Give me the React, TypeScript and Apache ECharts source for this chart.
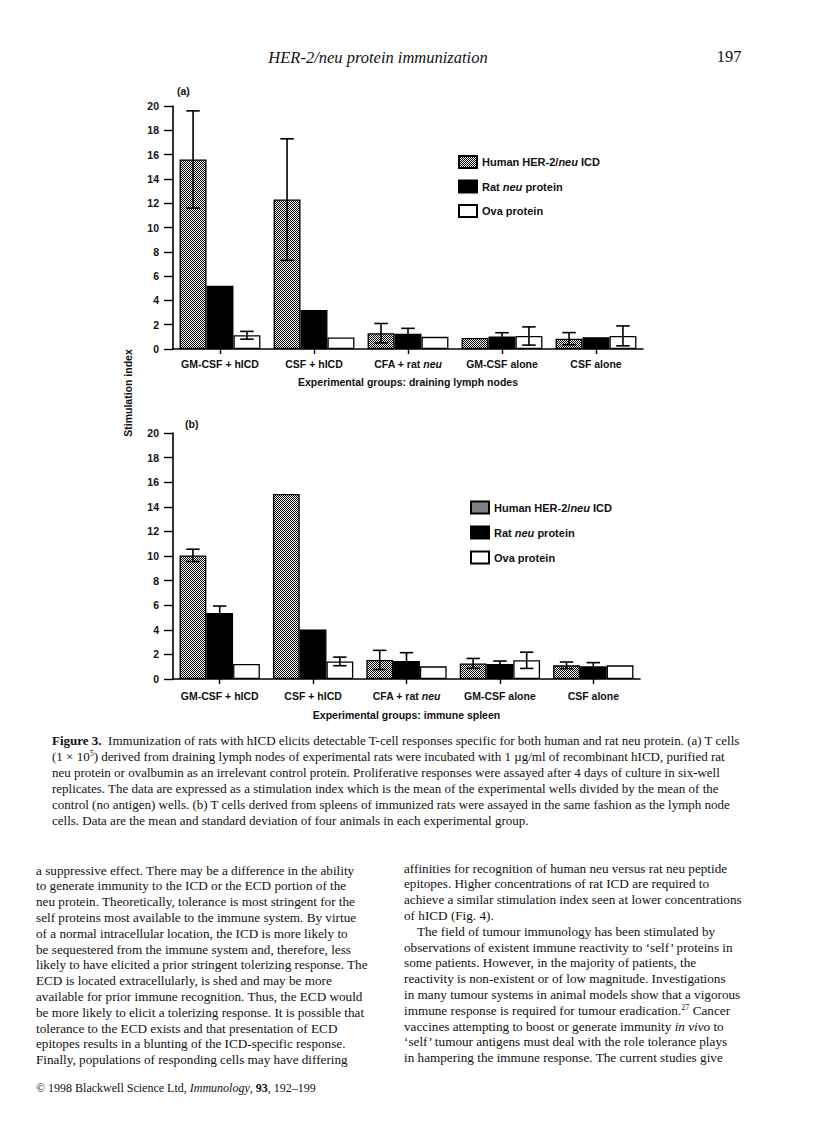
import React, { useEffect, useRef } from "react";
import * as echarts from "echarts";

// ---------- data ----------
const categories = ["GM-CSF + hICD", "CSF + hICD", "CFA + rat neu", "GM-CSF alone", "CSF alone"];
const seriesNames = ["Human HER-2/neu ICD", "Rat neu protein", "Ova protein"];

// (a) draining lymph nodes
const lymphHuman = [15.6, 12.3, 1.3, 0.9, 0.85];
const lymphHumanSD = [4.0, 5.0, 0.8, null, 0.5];
const lymphRat = [5.2, 3.2, 1.25, 1.02, 0.97];
const lymphRatSD = [null, null, 0.45, 0.32, null];
const lymphOva = [1.13, 0.95, 1.0, 1.07, 1.08];
const lymphOvaSD = [0.32, null, null, 0.75, 0.82];

// (b) immune spleen
const spleenHuman = [10.05, 15.05, 1.55, 1.27, 1.11];
const spleenHumanSD = [0.5, null, 0.78, 0.4, 0.27];
const spleenRat = [5.36, 4.03, 1.46, 1.22, 1.03];
const spleenRatSD = [0.57, null, 0.68, 0.24, 0.3];
const spleenOva = [1.22, 1.43, 1.03, 1.52, 1.11];
const spleenOvaSD = [null, 0.35, null, 0.66, null];

const yTicks = { min: 0, max: 20, interval: 2 };

const headerText = "HER-2/neu protein immunization";
const pageNumber = "197";

const captionLines = [
  "{b|Figure 3.}  Immunization of rats with hICD elicits detectable T-cell responses specific for both human and rat neu protein. (a) T cells",
  "(1 × 10{sup|5}) derived from draining lymph nodes of experimental rats were incubated with 1 µg/ml of recombinant hICD, purified rat",
  "neu protein or ovalbumin as an irrelevant control protein. Proliferative responses were assayed after 4 days of culture in six-well",
  "replicates. The data are expressed as a stimulation index which is the mean of the experimental wells divided by the mean of the",
  "control (no antigen) wells. (b) T cells derived from spleens of immunized rats were assayed in the same fashion as the lymph node",
  "cells. Data are the mean and standard deviation of four animals in each experimental group.",
];

const leftColumn = [
  "a suppressive effect. There may be a difference in the ability",
  "to generate immunity to the ICD or the ECD portion of the",
  "neu protein. Theoretically, tolerance is most stringent for the",
  "self proteins most available to the immune system. By virtue",
  "of a normal intracellular location, the ICD is more likely to",
  "be sequestered from the immune system and, therefore, less",
  "likely to have elicited a prior stringent tolerizing response. The",
  "ECD is located extracellularly, is shed and may be more",
  "available for prior immune recognition. Thus, the ECD would",
  "be more likely to elicit a tolerizing response. It is possible that",
  "tolerance to the ECD exists and that presentation of ECD",
  "epitopes results in a blunting of the ICD-specific response.",
  "Finally, populations of responding cells may have differing",
];

const rightColumn = [
  "affinities for recognition of human neu versus rat neu peptide",
  "epitopes. Higher concentrations of rat ICD are required to",
  "achieve a similar stimulation index seen at lower concentrations",
  "of hICD (Fig. 4).",
  "    The field of tumour immunology has been stimulated by",
  "observations of existent immune reactivity to ‘self’ proteins in",
  "some patients. However, in the majority of patients, the",
  "reactivity is non-existent or of low magnitude. Investigations",
  "in many tumour systems in animal models show that a vigorous",
  "immune response is required for tumour eradication.{sup|27} Cancer",
  "vaccines attempting to boost or generate immunity {i|in vivo} to",
  "‘self’ tumour antigens must deal with the role tolerance plays",
  "in hampering the immune response. The current studies give",
];

const footerText = "© 1998 Blackwell Science Ltd, {i|Immunology}, {b|93}, 192–199";

// ---------- styles ----------
const SANS = "'Liberation Sans', Arial, Helvetica, sans-serif";
const SERIF = "'Liberation Serif', 'Times New Roman', serif";
const CHART_FS = 10.5;
const GAP_RATIO = 0.14;

function makeDotPattern(): any {
  const c = document.createElement("canvas");
  c.width = 2;
  c.height = 2;
  const ctx = c.getContext("2d");
  if (ctx) {
    ctx.fillStyle = "#fff";
    ctx.fillRect(0, 0, 2, 2);
    ctx.fillStyle = "#000";
    ctx.fillRect(0, 0, 1, 1);
    ctx.fillRect(1, 1, 1, 1);
  }
  return { image: c, repeat: "repeat" };
}

const richChart = {
  n: { fontFamily: SANS, fontSize: CHART_FS, fontWeight: "bold", color: "#111" },
  i: { fontFamily: SANS, fontSize: CHART_FS, fontWeight: "bold", fontStyle: "italic", color: "#111" },
};

function neuRich(s: string) {
  return s
    .split(/(neu)/)
    .filter((p) => p.length > 0)
    .map((p) => (p === "neu" ? "{i|neu}" : "{n|" + p + "}"))
    .join("");
}

function makeAxes(gridIndex: number, name: string, labelMargin: number, nameGap: number) {
  const xAxis = {
    type: "category",
    gridIndex,
    data: categories,
    boundaryGap: true,
    axisLine: { show: true, lineStyle: { color: "#000", width: 1.6 } },
    axisTick: { show: true, alignWithLabel: true, length: 5, lineStyle: { color: "#000", width: 1.4 } },
    axisLabel: { interval: 0, margin: labelMargin, formatter: (v: string) => neuRich(v), rich: richChart },
    name,
    nameLocation: "middle",
    nameGap,
    nameTextStyle: { fontFamily: SANS, fontSize: CHART_FS, fontWeight: "bold", color: "#111" },
    splitLine: { show: false },
  };
  const yAxis = {
    type: "value",
    gridIndex,
    min: yTicks.min,
    max: yTicks.max,
    interval: yTicks.interval,
    axisLine: { show: true, lineStyle: { color: "#000", width: 1.6 } },
    axisTick: { show: true, length: 9, lineStyle: { color: "#000", width: 1.4 } },
    axisLabel: { margin: 14, fontFamily: SANS, fontSize: CHART_FS, fontWeight: "bold", color: "#111" },
    splitLine: { show: false },
  };
  return { xAxis, yAxis };
}

function barSeries(gridIndex: number, k: number, values: number[], styles: any[]) {
  return {
    type: "bar",
    name: seriesNames[k],
    xAxisIndex: gridIndex,
    yAxisIndex: gridIndex,
    data: values,
    barGap: "0%",
    barCategoryGap: GAP_RATIO * 100 + "%",
    itemStyle: styles[k],
    silent: true,
    z: 2,
  };
}

function errorSeries(gridIndex: number, k: number, means: number[], sds: (number | null)[]) {
  const data: number[][] = [];
  means.forEach((m, i) => {
    const s = sds[i];
    if (s != null) data.push([i, m, s]);
  });
  return {
    type: "custom",
    xAxisIndex: gridIndex,
    yAxisIndex: gridIndex,
    data,
    encode: { x: 0, y: 1 },
    silent: true,
    z: 10,
    renderItem: (params: any, api: any) => {
      const i = api.value(0);
      const m = api.value(1);
      const s = api.value(2);
      const c = api.coord([i, m]);
      const band = api.size([1, 0])[0];
      const groupW = band * (1 - GAP_RATIO);
      const bw = groupW / 3;
      const x = c[0] - groupW / 2 + (k + 0.5) * bw;
      const yTop = api.coord([i, m + s])[1];
      const yBot = api.coord([i, Math.max(m - s, 0)])[1];
      const half = bw * 0.25;
      const st = { stroke: "#000", lineWidth: 1.6 };
      return {
        type: "group",
        children: [
          { type: "line", shape: { x1: x, y1: yTop, x2: x, y2: yBot }, style: st },
          { type: "line", shape: { x1: x - half, y1: yTop, x2: x + half, y2: yTop }, style: st },
          { type: "line", shape: { x1: x - half, y1: yBot, x2: x + half, y2: yBot }, style: st },
        ],
      };
    },
  };
}

function legendFor(left: number, top: number, gap: number) {
  return {
    orient: "vertical",
    left,
    top,
    padding: 0,
    itemWidth: 18,
    itemHeight: 12,
    itemGap: gap,
    icon: "rect",
    selectedMode: false,
    data: seriesNames,
    formatter: (name: string) => neuRich(name),
    textStyle: {
      fontFamily: SANS,
      fontSize: 11,
      fontWeight: "bold",
      color: "#111",
      rich: {
        n: { fontFamily: SANS, fontSize: 11, fontWeight: "bold", color: "#111" },
        i: { fontFamily: SANS, fontSize: 11, fontWeight: "bold", fontStyle: "italic", color: "#111" },
      },
    },
  };
}

function textEl(text: string, x: number, y: number, opts: any = {}) {
  return {
    type: "text",
    x,
    y,
    silent: true,
    rotation: opts.rotation || 0,
    style: {
      text,
      fontFamily: opts.fontFamily || SERIF,
      fontSize: opts.fontSize || 13,
      fontWeight: opts.fontWeight || "normal",
      fontStyle: opts.fontStyle || "normal",
      fill: opts.fill || "#111",
      textAlign: opts.align || "left",
      textVerticalAlign: "middle",
      rich: opts.rich,
    },
  };
}

export default function App() {
  const ref = useRef<HTMLDivElement>(null);

  useEffect(() => {
    if (!ref.current) return;
    const chart = echarts.init(ref.current, null, { renderer: "svg" });

    const dots = makeDotPattern();
    const barStyles = [
      { color: dots, borderColor: "#000", borderWidth: 1.3 },
      { color: "#000", borderColor: "#000", borderWidth: 1.3 },
      { color: "#fff", borderColor: "#000", borderWidth: 1.3 },
    ];

    const a = makeAxes(0, "Experimental groups: draining lymph nodes", 9, 27);
    const b = makeAxes(1, "Experimental groups: immune spleen", 11, 30);

    const serifRich = (fs: number) => ({
      b: { fontFamily: SERIF, fontSize: fs, fontWeight: "bold", color: "#111" },
      i: { fontFamily: SERIF, fontSize: fs, fontStyle: "italic", color: "#111" },
      sup: { fontFamily: SERIF, fontSize: fs * 0.62, color: "#111", verticalAlign: "top", padding: [0, 0, 5, 0] },
    });

    const graphics: any[] = [];
    graphics.push(textEl(headerText, 378, 57, { fontSize: 16.5, fontStyle: "italic", align: "center" }));
    graphics.push(textEl(pageNumber, 729, 56, { fontSize: 16.5, align: "center" }));
    graphics.push(textEl("(a)", 177, 91, { fontFamily: SANS, fontSize: CHART_FS, fontWeight: "bold" }));
    graphics.push(textEl("(b)", 185, 424, { fontFamily: SANS, fontSize: CHART_FS, fontWeight: "bold" }));
    graphics.push(
      textEl("Stimulation index", 128, 393, {
        fontFamily: SANS,
        fontSize: CHART_FS,
        fontWeight: "bold",
        align: "center",
        rotation: Math.PI / 2,
      })
    );
    captionLines.forEach((ln, i) => {
      graphics.push(textEl(ln, 52, 740 + i * 16, { fontSize: 13, rich: serifRich(13) }));
    });
    leftColumn.forEach((ln, i) => {
      graphics.push(textEl(ln, 36, 870 + i * 15.8, { fontSize: 13.2, rich: serifRich(13.2) }));
    });
    rightColumn.forEach((ln, i) => {
      graphics.push(textEl(ln, 404, 868 + i * 15.8, { fontSize: 13.2, rich: serifRich(13.2) }));
    });
    graphics.push(textEl(footerText, 36, 1088, { fontSize: 12, rich: serifRich(12) }));

    chart.setOption({
      animation: false,
      backgroundColor: "#fff",
      grid: [
        { left: 173, top: 106, width: 470, height: 243, containLabel: false },
        { left: 173, top: 433, width: 467, height: 246, containLabel: false },
      ],
      xAxis: [a.xAxis, b.xAxis],
      yAxis: [a.yAxis, b.yAxis],
      legend: [legendFor(458, 155, 10.5), legendFor(470, 500.5, 11)],
      series: [
        barSeries(0, 0, lymphHuman, barStyles),
        barSeries(0, 1, lymphRat, barStyles),
        barSeries(0, 2, lymphOva, barStyles),
        errorSeries(0, 0, lymphHuman, lymphHumanSD),
        errorSeries(0, 1, lymphRat, lymphRatSD),
        errorSeries(0, 2, lymphOva, lymphOvaSD),
        barSeries(1, 0, spleenHuman, barStyles),
        barSeries(1, 1, spleenRat, barStyles),
        barSeries(1, 2, spleenOva, barStyles),
        errorSeries(1, 0, spleenHuman, spleenHumanSD),
        errorSeries(1, 1, spleenRat, spleenRatSD),
        errorSeries(1, 2, spleenOva, spleenOvaSD),
      ],
      graphic: graphics,
    });

    return () => chart.dispose();
  }, []);

  return (
    <div
      ref={ref}
      style={{ position: "absolute", left: 0, top: 0, width: 816, height: 1136, background: "#fff" }}
    />
  );
}
